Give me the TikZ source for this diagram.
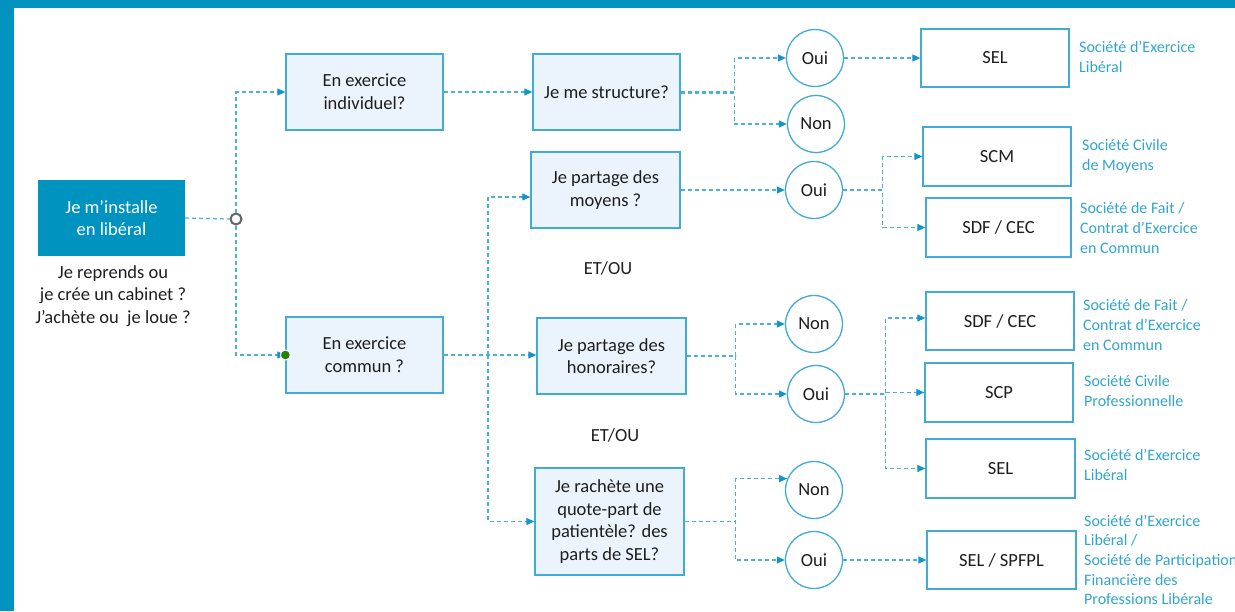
\documentclass[tikz,border=0pt]{standalone}
\usepackage{fontspec}
\setmainfont{Carlito}
\usetikzlibrary{arrows.meta,calc}
\definecolor{dblue}{RGB}{0,147,192}
\definecolor{boxedge}{RGB}{66,170,215}
\definecolor{boxfill}{RGB}{235,244,253}
\definecolor{linec}{RGB}{74,176,218}
\definecolor{tipc}{RGB}{20,148,200}
\definecolor{labc}{RGB}{48,165,206}
\definecolor{txtc}{RGB}{30,30,30}
\definecolor{greyc}{RGB}{100,100,100}
\definecolor{greenc}{RGB}{40,128,0}
\begin{document}
\begin{tikzpicture}[x=1pt,y=-1pt,
  every node/.style={font=\fontsize{18.5}{22.7}\selectfont, text=txtc},
  qbox/.style={draw=boxedge, fill=boxfill, line width=1.3pt, align=center, inner sep=2pt},
  rbox/.style={draw=boxedge, fill=white, line width=1.3pt, align=center, inner sep=2pt},
  ans/.style={circle, draw=boxedge, fill=white, line width=1.3pt, minimum size=57pt, inner sep=0pt},
  lab/.style={anchor=west, align=left, text=labc, font=\fontsize{16}{19.6}\selectfont, inner sep=0pt},
  conn/.style={draw=linec, line width=1.2pt, dash pattern=on 4pt off 3pt},
  arr/.style={conn, -{Triangle[length=8pt,width=7pt,color=tipc]}},
]
\useasboundingbox (0,0) rectangle (1235,611);
% frame
\fill[dblue] (0,0) rectangle (1235,8);
\fill[dblue] (0,0) rectangle (14,611);

% start
\node[fill=dblue, text=white, align=center, minimum width=147pt, minimum height=76pt, inner sep=2pt] (start) at (111.5,218) {Je m’installe\\en libéral};
\node[align=center, inner sep=0pt] (note) at (113,296) {Je reprends ou\\je crée un cabinet ?\\J’achète ou\ \ je loue ?};

% level 1
\node[qbox, minimum width=157pt, minimum height=76pt] (ind) at (364.5,92) {En exercice\\individuel?};
\node[qbox, minimum width=157pt, minimum height=76pt] (com) at (364.5,355) {En exercice\\commun ?};

% level 2
\node[qbox, minimum width=147pt, minimum height=76pt] (struct) at (606.5,92) {Je me structure?};
\node[qbox, minimum width=149pt, minimum height=76pt] (moy) at (605.5,190) {Je partage des\\moyens ?};
\node[qbox, minimum width=149pt, minimum height=76pt] (hon) at (611.5,356) {Je partage des\\honoraires?};
\node[qbox, minimum width=149pt, minimum height=107pt] (rach) at (609.5,521.5) {Je rachète une\\quote-part de\\patientèle? des\\parts de SEL?};

\node (et1) at (608,268) {ET/OU};
\node (et2) at (615,435) {ET/OU};

% answers
\node[ans] (oui1) at (815,58) {Oui};
\node[ans] (non1) at (816,124) {Non};
\node[ans] (oui2) at (814,190) {Oui};
\node[ans] (non2) at (814,324) {Non};
\node[ans] (oui3) at (816,394) {Oui};
\node[ans] (non3) at (814,490) {Non};
\node[ans] (oui4) at (814,560) {Oui};

% results
\node[rbox, minimum width=148pt, minimum height=58pt] (sel1) at (995,58) {SEL};
\node[rbox, minimum width=148pt, minimum height=59pt] (scm) at (997,156.5) {SCM};
\node[rbox, minimum width=145pt, minimum height=59pt] (sdf1) at (998.5,227.5) {SDF / CEC};
\node[rbox, minimum width=148pt, minimum height=58pt] (sdf2) at (1000,321) {SDF / CEC};
\node[rbox, minimum width=148pt, minimum height=59pt] (scp) at (999,392.5) {SCP};
\node[rbox, minimum width=149pt, minimum height=59pt] (sel2) at (1000.5,468.5) {SEL};
\node[rbox, minimum width=149pt, minimum height=58pt] (selsp) at (1001.5,560) {SEL / SPFPL};

% labels
\node[lab] (l1) at (1079,57) {Société d’Exercice\\Libéral};
\node[lab] (l2) at (1082,156) {Société Civile\\de Moyens};
\node[lab] (l3) at (1080,228) {Société de Fait /\\Contrat d’Exercice\\en Commun};
\node[lab] (l4) at (1083,325) {Société de Fait /\\Contrat d’Exercice\\en Commun};
\node[lab] (l5) at (1084,391) {Société Civile\\Professionnelle};
\node[lab] (l6) at (1084,465) {Société d’Exercice\\Libéral};
\node[lab] (l7) at (1084,560) {Société d’Exercice\\Libéral /\\Société de Participation\\Financière des\\Professions Libérale};

% junction and green dot
\node[circle, draw=greyc, fill=white, line width=2pt, minimum size=11pt, inner sep=0pt] (junc) at (236,219) {};
\coordinate (tr) at (488,355);

% connectors
\draw[conn] (start.east) -- (junc.west);
\draw[arr] (junc.north) |- (ind.west);
\draw[arr] (junc.south) |- (com.west);
\node[circle, fill=greenc, draw=white, line width=1pt, minimum size=10pt, inner sep=0pt] (gd) at (com.west) {};

\draw[arr] (ind.east) -- (struct.west);
\draw[arr] (struct.east) -- ++(54,0) |- (oui1.west);
\draw[arr] (struct.east) ++(0,1.5) -- ++(54,0) |- (non1.west);

\draw[arr] (com.east) -- (com.east -| hon.west);
\draw[arr] (tr) |- ($(moy.west)+(0,7)$);
\draw[arr] (tr) |- (rach.west);

\draw[arr] (moy.east) -- (oui2.west);
\draw[arr] (oui2.east) -- ++(39.5,0) |- (scm.west);
\draw[arr] (oui2.east) -- ++(39.5,0) |- (sdf1.west);

\draw[arr] (oui1.east) -- (sel1.west);

\draw[arr] (hon.east) -- ++(49,0) |- (non2.west);
\draw[arr] (hon.east) -- ++(49,0) |- (oui3.west);

\draw[arr] (oui3.east) -- ++(40.5,0) |- ($(sdf2.west)+(0,-3)$);
\draw[arr] (oui3.east) -- ++(40.5,0) |- (scp.west);
\draw[arr] (oui3.east) -- ++(40.5,0) |- (sel2.west);

\draw[arr] (rach.east) -- ++(51,0) |- (non3.157);
\draw[arr] (rach.east) -- ++(51,0) |- (oui4.west);
\draw[arr] (oui4.east) -- (selsp.west);
\end{tikzpicture}
\end{document}
